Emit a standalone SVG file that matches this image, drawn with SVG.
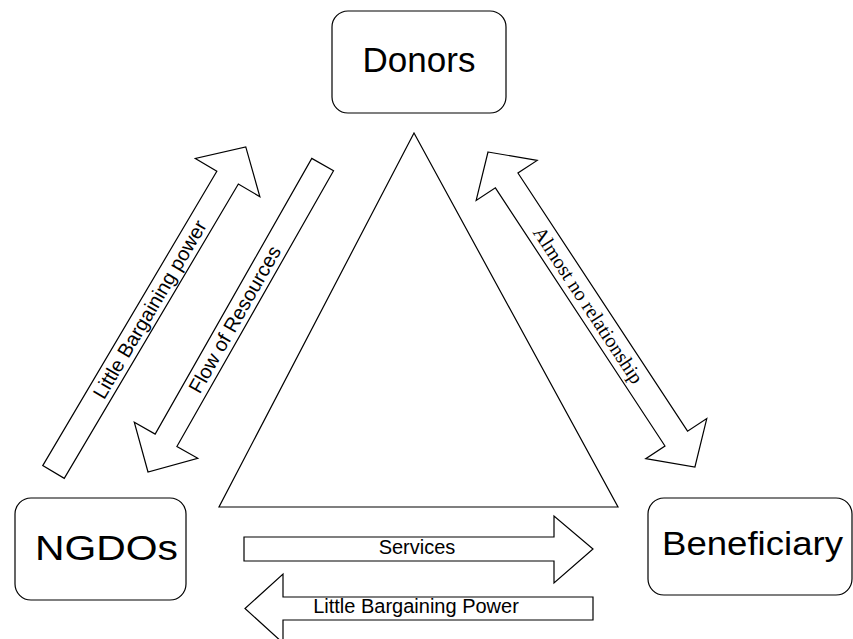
<svg xmlns="http://www.w3.org/2000/svg" width="853" height="639" viewBox="0 0 853 639">
<style>
.box{fill:#fff;stroke:#000;stroke-width:1.2}
.arr{fill:#fff;stroke:#000;stroke-width:1.2;stroke-linejoin:miter}
.lbl{font-family:"Liberation Sans",Arial,sans-serif;font-size:20px;fill:#000;text-anchor:middle}
.ser{font-family:"Liberation Serif","Times New Roman",serif;font-size:20px;fill:#000;text-anchor:middle}
.node{font-family:"Liberation Sans",Arial,sans-serif;font-size:35px;fill:#000;text-anchor:middle}
</style>
<rect width="853" height="639" fill="#fff"/>
<g id="triangle">
<polygon points="414,133 219,507 618,507" class="arr"/>
</g>
<g id="donors">
<rect x="332" y="11" width="174" height="102" rx="16" class="box"/>
<text x="419" y="72" class="node">Donors</text>
</g>
<g id="ngdos">
<rect x="15" y="498" width="171" height="102" rx="16" class="box"/>
<text x="106.5" y="560" class="node" textLength="143" lengthAdjust="spacingAndGlyphs">NGDOs</text>
</g>
<g id="beneficiary">
<rect x="648" y="498" width="204" height="97" rx="16" class="box"/>
<text x="752.5" y="555" class="node" font-size="33" style="font-size:33px" textLength="181" lengthAdjust="spacingAndGlyphs">Beneficiary</text>
</g>
<g id="connectors">
<g transform="translate(53.5,472) rotate(-59.4)">
<path d="M0,-12.5 L342,-12.5 L342,-37.5 L377.7,0 L342,37.5 L342,12.5 L0,12.5 Z" class="arr"/>
<text x="189" y="7" class="lbl">Little Bargaining power</text>
</g>
<g transform="translate(148,472) rotate(-60.4)">
<path d="M0,0 L36.5,-36.5 L36.5,-12.5 L353.6,-12.5 L353.6,12.5 L36.5,12.5 L36.5,36.5 Z" class="arr"/>
<text x="175.5" y="7" class="lbl">Flow of Resources</text>
</g>
<g transform="translate(488,152) rotate(56.7)">
<path d="M0,0 L34,-36.5 L34,-13.5 L342.9,-13.5 L342.9,-36.5 L376.9,0 L342.9,36.5 L342.9,13.5 L34,13.5 L34,36.5 Z" class="arr"/>
<text x="183" y="7" class="ser">Almost no relationship</text>
</g>
<path d="M244,537 L554,537 L554,516 L593,549 L554,583 L554,561 L244,561 Z" class="arr"/>
<text x="417" y="554" class="lbl">Services</text>
<path d="M593,597 L283,597 L283,574 L245,608.5 L283,643 L283,620 L593,620 Z" class="arr"/>
<text x="416" y="613" class="lbl">Little Bargaining Power</text>
</g>
</svg>
